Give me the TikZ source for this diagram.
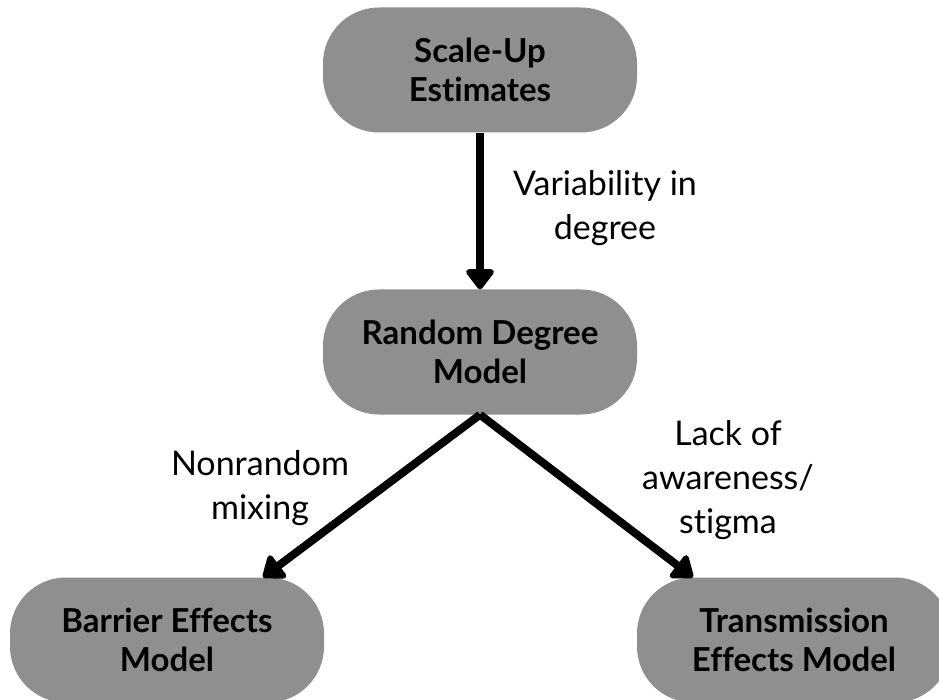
\documentclass[tikz,border=0pt]{standalone}
\usepackage{fontspec}
\setmainfont{Lato}[Ligatures={NoCommon,NoRare}]
\usepackage{tikz}
\usetikzlibrary{arrows.meta}
\definecolor{boxgray}{HTML}{8F8F8F}
\tikzset{
    model/.style={draw=none,fill=boxgray,rounded corners=56pt,minimum width=314pt,minimum height=125pt,
        align=center,font=\fontsize{33}{39}\selectfont\bfseries,inner sep=0pt},
    lbl/.style={align=center,font=\fontsize{34}{44}\selectfont},
    flow/.style={line width=8pt,-{Triangle[width=32pt,length=22pt,round]}}
}
\begin{document}
\begin{tikzpicture}[x=1pt,y=-1pt]
        \useasboundingbox (0,0) rectangle (939,700);
        \clip (0,0) rectangle (939,700);

        % the four models
        \node[model] (scale) at (480,70) {Scale-Up\\Estimates};
        \node[model] (rand) at (480,352) {Random Degree\\Model};
        \node[model] (barr) at (167,640) {Barrier Effects\\Model};
        \node[model] (trans) at (794,640) {Transmission\\Effects Model};

        % arrows between them
        \draw[flow] (scale.south) -- (rand.north);
        \draw[flow] (rand.south) -- ([xshift=96pt]barr.north);
        \draw[flow] (rand.south) -- ([xshift=-101pt]trans.north);

        % labels on the arrows
        \node[lbl] (var) at (605,208) {Variability in\\degree};
        \node[lbl] (mix) at (260,488) {Nonrandom\\mixing};
        \node[lbl] (lack) at (728,480) {Lack of\\awareness/\\stigma};
    \end{tikzpicture}
\end{document}
